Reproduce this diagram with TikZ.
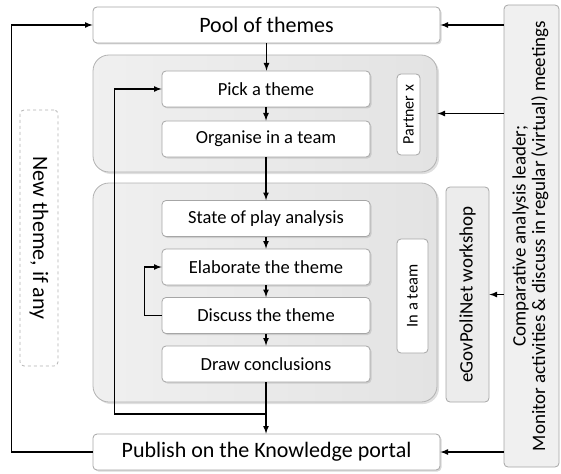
\documentclass[tikz,border=0pt]{standalone}
\usepackage{fontspec}
\setmainfont{Carlito}
\usetikzlibrary{shadows,calc}

\tikzset{
  stepbox/.style={draw=gray!70, fill=white, rounded corners=4pt, line width=0.8pt,
    minimum width=208pt, minimum height=36pt, inner sep=0pt,
    font=\fontsize{18.5}{22}\selectfont,
    drop shadow={shadow xshift=1.5pt, shadow yshift=-1.5pt, fill=gray!60}},
  bigbox/.style={stepbox, minimum width=347pt, font=\fontsize{22}{26}\selectfont},
  groupbox/.style={draw=gray!60, rounded corners=16pt, line width=0.8pt,
    left color=gray!12, middle color=gray!42, right color=gray!22,
    minimum width=344pt, inner sep=0pt,
    drop shadow={shadow xshift=2pt, shadow yshift=-2pt, fill=gray!50}},
  sidebox/.style={draw=gray!70, rounded corners=4pt, line width=0.8pt, inner sep=0pt},
  flow/.style={line width=1.6pt, ->},
}

\begin{document}
\begin{tikzpicture}[x=1pt,y=-1pt,>=latex]
\useasboundingbox (0,0) rectangle (561,473);

% Draw the two gray groups
\node[groupbox, minimum height=117pt] (upper) at (265,113.5) {};
\node[groupbox, minimum height=219pt] (lower) at (265,292.5) {};

% Draw the steps
\node[bigbox] (pool) at (266.5,25) {Pool of themes};
\node[stepbox] (pick) at (266,89) {Pick a theme};
\node[stepbox] (organise) at (266,139) {Organise in a team};
\node[stepbox] (state) at (266,218.5) {State of play analysis};
\node[stepbox] (elaborate) at (266,267) {Elaborate the theme};
\node[stepbox] (discuss) at (266,315.5) {Discuss the theme};
\node[stepbox] (conclude) at (266,364) {Draw conclusions};
\node[bigbox] (publish) at (266.5,452) {Publish on the Knowledge portal};

% Draw the side labels
\node[sidebox, fill=white, minimum width=23pt, minimum height=81pt,
  font=\fontsize{16}{18}\selectfont] (partner) at (408.5,114.5) {\rotatebox{90}{Partner x}};
\node[sidebox, fill=white, minimum width=31pt, minimum height=114pt,
  font=\fontsize{16.5}{18}\selectfont] (inteam) at (412.5,296) {\rotatebox{90}{In a team}};
\node[sidebox, fill=gray!15, minimum width=43pt, minimum height=215pt,
  font=\fontsize{19}{21}\selectfont] (workshop) at (467.5,294.5) {\rotatebox{90}{eGovPoliNet workshop}};
\node[sidebox, fill=gray!12, minimum width=55pt, minimum height=462pt,
  font=\fontsize{19}{19}\selectfont] (leader) at (531.5,236)
  {\rotatebox{90}{\begin{tabular}{@{}c@{}}Comparative analysis leader;\\
   Monitor activities \& discuss in regular (virtual) meetings\end{tabular}}};
\node[sidebox, draw=gray!60, dashed, fill=white, minimum width=38pt, minimum height=256pt,
  font=\fontsize{22}{26}\selectfont] (newtheme) at (39,238) {\rotatebox{-90}{New theme, if any}};

% Draw the main flow
\foreach \a/\b in {pool/pick,pick/organise,organise/state,state/elaborate,
  elaborate/discuss,discuss/conclude,conclude/publish}
  \draw[flow] (\a.south) -- (\a.south |- \b.north);

% Draw the loops
\coordinate (split) at ($(conclude.south)!0.615!(publish.north)$);
\draw[flow] (split) -| ([xshift=-47pt]pick.west) -- (pick.west);
\draw[flow] (discuss.west) -- ++(-17,0) |- (elaborate.west);
\draw[flow] (publish.west) -- ++(-81,0) |- (pool.west);

% Draw the arrows from the leader
\draw[flow] (leader.west |- pool.east) -- (pool.east);
\draw[flow] (leader.west |- upper.east) -- (upper.east);
\draw[flow] (leader.west |- workshop.east) -- (workshop.east);
\draw[flow] (leader.west |- publish.east) -- (publish.east);

\end{tikzpicture}
\end{document}
